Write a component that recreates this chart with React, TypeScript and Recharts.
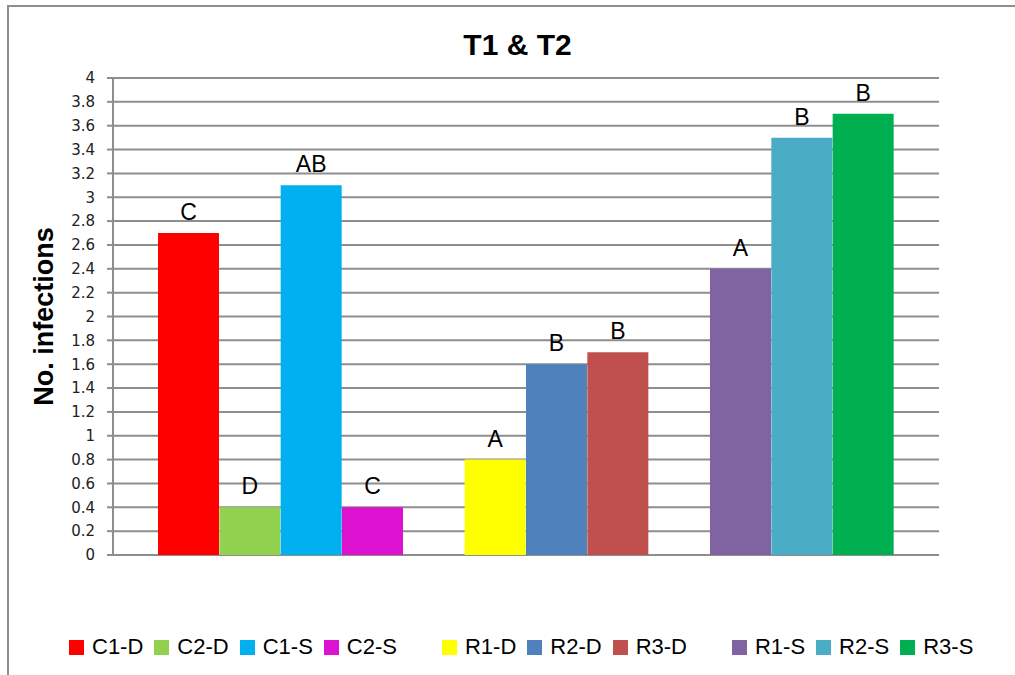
import React from 'react';
import { BarChart, Bar, XAxis, YAxis, CartesianGrid, Cell, LabelList } from 'recharts';

const categories = ['C1-D', 'C2-D', 'C1-S', 'C2-S', 'gap1', 'R1-D', 'R2-D', 'R3-D', 'gap2', 'R1-S', 'R2-S', 'R3-S'];
const values: (number | null)[] = [2.7, 0.4, 3.1, 0.4, null, 0.8, 1.6, 1.7, null, 2.4, 3.5, 3.7];
const letters = ['C', 'D', 'AB', 'C', '', 'A', 'B', 'B', '', 'A', 'B', 'B'];
const colors = ['#FF0000', '#92D050', '#00B0F0', '#DD11D0', '#FFFFFF', '#FFFF00', '#4F81BD', '#C0504D', '#FFFFFF', '#8064A2', '#4BACC6', '#00B050'];
const yTicks = [0, 0.2, 0.4, 0.6, 0.8, 1, 1.2, 1.4, 1.6, 1.8, 2, 2.2, 2.4, 2.6, 2.8, 3, 3.2, 3.4, 3.6, 3.8, 4];

const data = categories.map((c, i) => ({
  name: c,
  value: values[i],
  letter: letters[i],
  color: colors[i],
  gap: values[i] === null,
}));

const FONT = '"Liberation Sans", Arial, sans-serif';
const GRID = '#8e8e8e';

export default function App() {
  return (
    <div
      style={{
        position: 'absolute',
        left: 0,
        top: 0,
        width: 1015,
        height: 675,
        overflow: 'hidden',
        background: '#fff',
        fontFamily: FONT,
      }}
    >
      <div
        style={{
          position: 'absolute',
          left: 7,
          top: 5,
          width: 1200,
          height: 900,
          border: `2px solid ${GRID}`,
          boxSizing: 'border-box',
        }}
      />
      <div
        style={{
          position: 'absolute',
          left: 0,
          top: 30,
          width: 1035,
          textAlign: 'center',
          fontSize: 30,
          lineHeight: '30px',
          fontWeight: 'bold',
          color: '#000',
        }}
      >
        T1 &amp; T2
      </div>
      <div style={{ position: 'absolute', left: 0, top: 0 }}>
        <BarChart
          width={1015}
          height={675}
          data={data}
          margin={{ top: 78, right: 76, bottom: 120, left: 0 }}
          barCategoryGap={0}
          barGap={0}
        >
          <CartesianGrid vertical={false} stroke={GRID} strokeWidth={2} />
          <XAxis
            dataKey="name"
            height={0}
            tick={false}
            tickLine={false}
            axisLine={{ stroke: GRID, strokeWidth: 2 }}
            padding={{ left: 45, right: 45 }}
          />
          <YAxis
            width={113}
            domain={[0, 4]}
            ticks={yTicks}
            interval={0}
            tickSize={6}
            tickMargin={12}
            tickLine={{ stroke: GRID, strokeWidth: 2 }}
            axisLine={{ stroke: GRID, strokeWidth: 2 }}
            tick={{ fontSize: 15, fill: '#222', fontFamily: '"DejaVu Sans", sans-serif' }}
            label={{
              value: 'No. infections',
              angle: -90,
              position: 'center',
              dx: -13,
              style: { fontSize: 27, fontWeight: 'bold', fill: '#000', fontFamily: FONT },
            }}
          />
          <YAxis
            yAxisId="right"
            orientation="right"
            width={0}
            domain={[0, 4]}
            tick={false}
            tickLine={false}
            axisLine={{ stroke: GRID, strokeWidth: 2 }}
          />
          <Bar dataKey="value" isAnimationActive={false}>
            {data.map((d, i) => (
              <Cell key={i} fill={d.color} />
            ))}
            <LabelList
              dataKey="letter"
              position="top"
              offset={13}
              fill="#000"
              fontSize={23}
              fontFamily={FONT}
            />
          </Bar>
        </BarChart>
      </div>
      <div
        style={{
          position: 'absolute',
          left: 69,
          top: 636,
          display: 'flex',
          alignItems: 'center',
          fontSize: 22,
          lineHeight: '22px',
          color: '#000',
          whiteSpace: 'nowrap',
        }}
      >
        {data.map((d, i) =>
          d.gap ? (
            <div key={i} style={{ width: 34 }} />
          ) : (
            <div key={i} style={{ display: 'flex', alignItems: 'center', marginRight: 11 }}>
              <div style={{ width: 15, height: 15, background: d.color, marginRight: 8 }} />
              <span>{d.name}</span>
            </div>
          )
        )}
      </div>
    </div>
  );
}
